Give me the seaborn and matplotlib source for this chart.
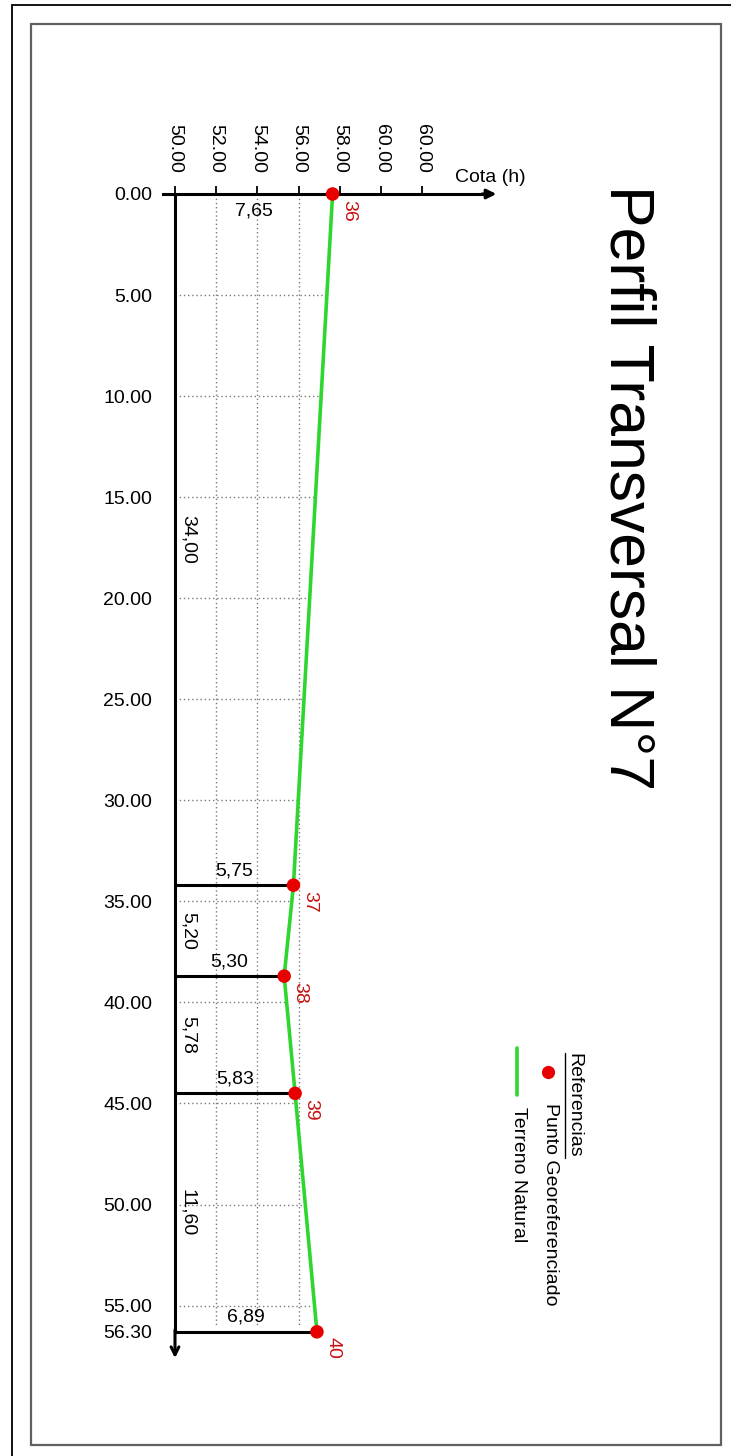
import numpy as np
import pandas as pd
import matplotlib
matplotlib.use("Agg")
import matplotlib.pyplot as plt
from matplotlib.patches import Rectangle
from matplotlib.lines import Line2D
import seaborn as sns

# ---------------- data ----------------
stations = ["36", "37", "38", "39", "40"]
distances = [0.0, 34.2, 38.7, 44.5, 56.3]          # progressive (m)
cotas = [57.65, 55.75, 55.30, 55.83, 56.89]         # elevation (m)
height_labels = ["7,65", "5,75", "5,30", "5,83", "6,89"]
segment_labels = ["34,00", "5,20", "5,78", "11,60"]
y_ticks = [0, 5, 10, 15, 20, 25, 30, 35, 40, 45, 50, 55, 56.3]
y_tick_labels = ["0.00", "5.00", "10.00", "15.00", "20.00", "25.00", "30.00",
                 "35.00", "40.00", "45.00", "50.00", "55.00", "56.30"]
x_ticks = [50, 52, 54, 56, 58, 60, 62]
x_tick_labels = ["50.00", "52.00", "54.00", "56.00", "58.00", "60.00", "60.00"]
grid_x = [52, 54, 56]
datum = 50.0

sns.set_style("white")
plt.rcParams["font.family"] = ["Liberation Sans", "DejaVu Sans"]
plt.rcParams["text.color"] = "black"
plt.rcParams["xtick.color"] = "black"
plt.rcParams["ytick.color"] = "black"

W, H = 731, 1456
fig = plt.figure(figsize=(W / 100, H / 100), dpi=100)
fig.patch.set_facecolor("white")

def fx(px):
    return px / W

def fy(py):
    return 1 - py / H

# axes covering whole figure; data -> pixel mapping
ax = fig.add_axes([0, 0, 1, 1])
ax.set_facecolor("none")
sx = 20.6    # px per cota unit
sy = 20.21   # px per distance unit
ax.set_xlim(datum - 175 / sx, datum + (W - 175) / sx)
ax.set_ylim((H - 194) / sy, -194 / sy)

df = pd.DataFrame({"cota": cotas, "dist": distances, "station": stations})

GREEN = "#2fd62f"
RED = "#e80000"
LRED = "#c81010"
BLACK = "black"
GRID = "#7a7a7a"

# grid (dotted), horizontal clipped at terrain
for g in grid_x:
    ax.plot([g, g], [0, 55.95], color=GRID, lw=1.0, ls=(0, (1, 2)), zorder=1)
for yt in y_ticks[1:-1]:
    xe = np.interp(yt, distances, cotas)
    ax.plot([datum, xe], [yt, yt], color=GRID, lw=1.0, ls=(0, (1, 2)), zorder=1)

# horizontal lines to each point
for c, d in zip(cotas[1:], distances[1:]):
    ax.plot([datum, c], [d, d], color=BLACK, lw=2.2, solid_capstyle="butt", zorder=3)

# terrain line and points
sns.lineplot(data=df, x="cota", y="dist", sort=False, estimator=None,
             color=GREEN, lw=2.6, ax=ax, zorder=4)
sns.scatterplot(data=df, x="cota", y="dist", color=RED, s=95,
                edgecolor="none", ax=ax, zorder=6)

# spines as axes
for s in ["right", "bottom"]:
    ax.spines[s].set_visible(False)
ax.spines["left"].set_position(("data", datum))
ax.spines["left"].set_bounds(0, 56.3)
ax.spines["left"].set_linewidth(2.2)
ax.spines["left"].set_color(BLACK)
ax.spines["top"].set_position(("data", 0))
ax.spines["top"].set_bounds(datum - 12 / sx, 65.0)
ax.spines["top"].set_linewidth(2.2)
ax.spines["top"].set_color(BLACK)

ax.annotate("", xy=(datum, 57.6), xytext=(datum, 56.2),
            arrowprops=dict(arrowstyle="->", lw=2.2, color=BLACK,
                            mutation_scale=14, shrinkA=0, shrinkB=0), zorder=3)
ax.annotate("", xy=(65.6, 0), xytext=(64.9, 0),
            arrowprops=dict(arrowstyle="-|>", lw=2.2, color=BLACK,
                            mutation_scale=14, shrinkA=0, shrinkB=0), zorder=3)

ax.xaxis.set_ticks_position("top")
ax.set_xticks(x_ticks)
ax.set_xticklabels(x_tick_labels, rotation=270, fontsize=14)
ax.tick_params(axis="x", direction="out", length=6, width=1.3, pad=9,
               colors=BLACK, labelcolor=BLACK)
ax.set_yticks(y_ticks)
ax.set_yticklabels(y_tick_labels, fontsize=14)
ax.tick_params(axis="y", direction="out", length=8.5, width=2.2, pad=8,
               colors=BLACK, labelcolor=BLACK)
ax.set_xlabel("")
ax.set_ylabel("")
ax.grid(False)

ax.text(65.3, -0.4, "Cota (h)", fontsize=14, ha="center", va="bottom", color=BLACK)

# height labels
for i, (c, d, lab) in enumerate(zip(cotas, distances, height_labels)):
    xm = (datum + c) / 2
    if i == 0:
        ax.text(xm, d + 0.4, lab, fontsize=14, ha="center", va="top", zorder=7, color=BLACK)
    else:
        ax.text(xm, d - 0.3, lab, fontsize=14, ha="center", va="bottom", zorder=7, color=BLACK)

# segment labels
for k, lab in enumerate(segment_labels):
    ym = (distances[k] + distances[k + 1]) / 2
    ax.text(datum + 13 / sx, ym, lab, fontsize=14, rotation=270,
            ha="center", va="center", zorder=7, color=BLACK)

# station numbers
for c, d, s in zip(cotas, distances, stations):
    ax.annotate(s, xy=(c, d), xytext=(11.5, -4), textcoords="offset points",
                rotation=270, ha="center", va="top", fontsize=14, color=LRED, zorder=7)

# title
fig.text(fx(627), fy(488), "Perfil Transversal N°7", rotation=270,
         fontsize=45, ha="center", va="center", color=BLACK)

# legend (rotated)
t_ref = fig.text(fx(574), fy(1053), "Referencias", rotation=270, fontsize=14,
                 ha="center", va="top", color=BLACK)
fig.text(fx(550), fy(1103), "Punto Georeferenciado", rotation=270, fontsize=14,
         ha="center", va="top", color=BLACK)
fig.text(fx(518), fy(1107), "Terreno Natural", rotation=270, fontsize=14,
         ha="center", va="top", color=BLACK)
fig.lines.append(Line2D([fx(548)], [fy(1072)], marker="o", markersize=9.5,
                        color=RED, markeredgecolor="none", transform=fig.transFigure))
fig.lines.append(Line2D([fx(517), fx(517)], [fy(1048), fy(1095)], color=GREEN,
                        lw=2.6, transform=fig.transFigure))

fig.canvas.draw()
bb = t_ref.get_window_extent()
ux = (bb.x0 - 1) / W
fig.lines.append(Line2D([ux, ux], [bb.y0 / H, bb.y1 / H], color=BLACK, lw=1.0,
                        transform=fig.transFigure))

# frames
fig.patches.append(Rectangle((fx(12), fy(1470)), (760 - 12) / W, (1470 - 5) / H,
                             fill=False, edgecolor="black", lw=1.3,
                             transform=fig.transFigure))
fig.patches.append(Rectangle((fx(31), fy(1445)), (721 - 31) / W, (1445 - 24) / H,
                             fill=False, edgecolor="#606060", lw=1.6,
                             transform=fig.transFigure))

fig.savefig("out.png", dpi=100)
